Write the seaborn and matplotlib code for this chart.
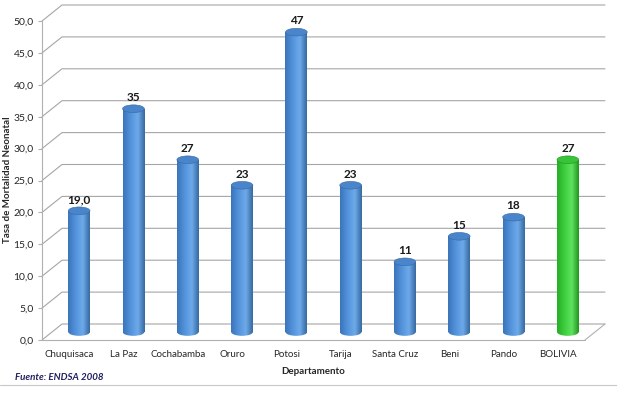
import matplotlib
matplotlib.use("Agg")
import matplotlib.pyplot as plt
import matplotlib.transforms as mtransforms
from matplotlib.colors import LinearSegmentedColormap
from matplotlib.patches import Ellipse
from matplotlib.lines import Line2D
import numpy as np
import pandas as pd
import seaborn as sns

# Data
departamentos = ["Chuquisaca", "La Paz", "Cochabamba", "Oruro", "Potosi",
                 "Tarija", "Santa Cruz", "Beni", "Pando", "BOLIVIA"]
tasas = [19.0, 35, 27, 23, 47, 23, 11, 15, 18, 27]
etiquetas = ["19,0", "35", "27", "23", "47", "23", "11", "15", "18", "27"]
y_ticks = [0, 5, 10, 15, 20, 25, 30, 35, 40, 45, 50]

df = pd.DataFrame({"Departamento": departamentos, "Tasa": tasas})

sns.set_style("white")
plt.rcParams["font.family"] = ["Lato", "DejaVu Sans"]

# colours for the cylinder shading: (left edge, mid, highlight, right edge, cap)
blue = ("#3b74bb", "#5393db", "#6eaaea", "#36699f", "#4a85cc")
green = ("#27ad27", "#3fcf3f", "#5fe25f", "#21951f", "#38c438")
palette = [blue] * 9 + [green]

fig = plt.figure(figsize=(6.17, 3.94), dpi=100)
ax = fig.add_axes([42 / 617, 54 / 394, 543 / 617, 319 / 394])

sns.barplot(data=df, x="Departamento", y="Tasa", hue="Departamento",
            palette=[p[1] for p in palette], legend=False, width=0.4, ax=ax,
            saturation=1)
ax.set_xlim(-0.5, 9.5)
ax.set_ylim(0, 50)

# 3D depth offsets (pixels)
DX, DY = 20, 16
ppx = 543 / 10.0
ppy = 319 / 50.0
dxd, dyd = DX / ppx, DY / ppy

# back wall / floor grid
for v in y_ticks:
    ax.plot([-0.5, -0.5 + dxd, 9.5 + dxd], [v, v + dyd, v + dyd],
            color="#a6a6a6", lw=0.8, clip_on=False, zorder=0)
ax.plot([-0.5, 9.5], [0, 0], color="#b0b0b0", lw=0.8, clip_on=False, zorder=0)
ax.plot([9.5, 9.5 + dxd], [0, dyd], color="#b0b0b0", lw=0.8, clip_on=False, zorder=0)
ax.plot([-0.5, -0.5], [0, 50], color="#b0b0b0", lw=0.8, clip_on=False, zorder=0)

shift = ax.transData + mtransforms.ScaledTranslation(DX / 2 / 100, DY / 2 / 100,
                                                      fig.dpi_scale_trans)
cap_h = 1.2
grad = np.linspace(0, 1, 64).reshape(1, -1)
for p, cols, lab in zip(ax.patches, palette, etiquetas):
    x, w, h = p.get_x(), p.get_width(), p.get_height()
    p.set_transform(shift)
    p.set_facecolor("none")
    p.set_edgecolor("none")
    cmap = LinearSegmentedColormap.from_list(
        "cyl", [(0, cols[0]), (0.35, cols[1]), (0.68, cols[2]), (1, cols[3])])
    im = ax.imshow(grad, cmap=cmap, aspect="auto", extent=(x, x + w, 0, h),
                   transform=shift, zorder=3, interpolation="bicubic")
    im.set_clip_path(p)
    bottom = Ellipse((x + w / 2, 0), w, cap_h, transform=shift,
                     facecolor="none", edgecolor="none")
    ax.add_patch(bottom)
    im2 = ax.imshow(grad, cmap=cmap, aspect="auto",
                    extent=(x, x + w, -cap_h, 0), transform=shift,
                    zorder=3, interpolation="bicubic")
    im2.set_clip_path(bottom)
    ax.add_patch(Ellipse((x + w / 2, h), w, cap_h, transform=shift,
                         facecolor=cols[4], edgecolor=cols[3], lw=0.4, zorder=4))
    ax.text(x + w / 2, h + cap_h / 2 + 0.3, lab, transform=shift,
            ha="center", va="bottom", fontsize=8.5, fontweight="bold",
            color="#1a1a1a", zorder=5)

ax.set_xlim(-0.5, 9.5)
ax.set_ylim(0, 50)
sns.despine(ax=ax, left=True, bottom=True)
ax.set_yticks(y_ticks)
ax.set_yticklabels([f"{v:.1f}".replace(".", ",") for v in y_ticks],
                   fontsize=7.5, color="#262626")
ax.set_xticks(range(len(departamentos)))
ax.set_xticklabels(departamentos, fontsize=7, color="#262626")
ax.set_xticks(np.arange(0.5, 9.5, 1), minor=True)
ax.tick_params(axis="x", which="major", length=0, pad=7)
ax.tick_params(axis="x", which="minor", length=3, color="#b0b0b0", width=0.8)
ax.tick_params(axis="y", length=3, color="#b0b0b0", width=0.8, pad=3)
ax.yaxis.set_tick_params(left=True)
ax.set_xlabel("Departamento", fontsize=7, fontweight="bold", labelpad=6)
ax.set_ylabel("")
fig.text(8 / 617, 1 - 180 / 394, "Tasa de Mortalidad Neonatal", rotation=90,
         ha="center", va="center", fontsize=7, fontweight="bold")
fig.text(15 / 617, 1 - 378 / 394, "Fuente: ENDSA 2008", ha="left", va="center",
         fontsize=7, fontweight="bold", style="italic", color="#1f1f5f")
fig.add_artist(Line2D([0, 1], [1 - 385 / 394] * 2, color="#c8c8c8", lw=0.8,
                      transform=fig.transFigure))

fig.savefig("out.png", dpi=100)
